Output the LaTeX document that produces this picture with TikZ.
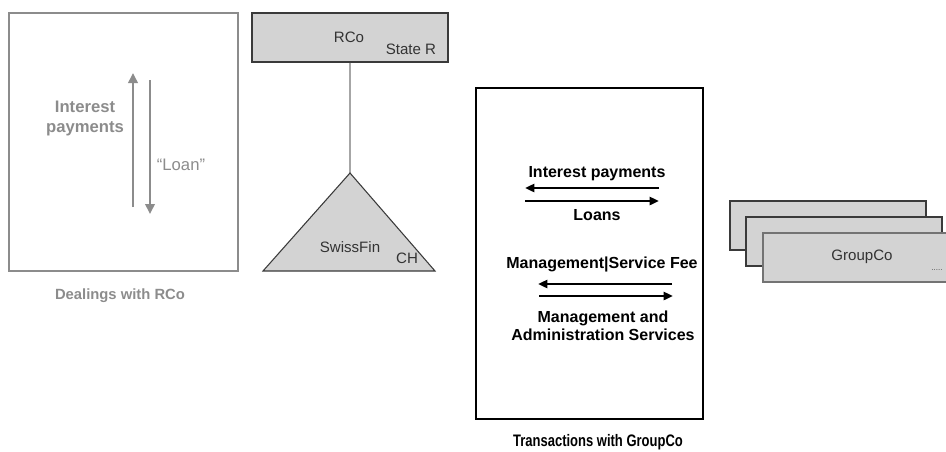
\documentclass[tikz,border=0pt]{standalone}
\usepackage{fontspec}
\usepackage{graphicx}
\setmainfont{Liberation Sans}
\usetikzlibrary{arrows.meta}
\definecolor{lgray}{HTML}{8C8C8C}
\definecolor{boxfill}{HTML}{D3D3D3}
\definecolor{boxline}{HTML}{3A3A3A}
\tikzset{
  greybox/.style={draw=lgray, line width=1.5pt, fill=white, inner sep=0pt},
  blackbox/.style={draw=black, line width=1.5pt, fill=white, inner sep=0pt},
  entity/.style={draw=boxline, line width=0.8pt, fill=boxfill, inner sep=0pt, minimum width=147pt, minimum height=36.75pt},
  greyarrow/.style={draw=lgray, line width=2.2pt, -{Triangle[length=7.5pt,width=7pt]}},
  blackarrow/.style={draw=black, line width=2.2pt, -{Triangle[length=7pt,width=6pt]}},
  greylabel/.style={text=lgray, font=\bfseries\fontsize{12.5}{15}\selectfont, align=center, inner sep=0pt},
  blacklabel/.style={text=black, font=\bfseries\fontsize{12}{13.5}\selectfont, align=center, inner sep=0pt},
  plainlabel/.style={text=black!80, font=\fontsize{11.3}{13}\selectfont, inner sep=0pt}
}
\begin{document}
\begin{tikzpicture}[x=0.75pt,y=-0.75pt]
\useasboundingbox (0,0) rectangle (946,451);
% left box
\node[greybox, minimum width=171.75pt, minimum height=193.5pt] (deal) at (123.5,142) {};
\coordinate (ipFrom) at (133,207);
\coordinate (ipTo) at (133,73);
\coordinate (lnFrom) at (150,80);
\coordinate (lnTo) at (150,214);
\draw[greyarrow] (ipFrom) -- (ipTo);
\draw[greyarrow] (lnFrom) -- (lnTo);
\node[greylabel] (iplab) at (85,118) {Interest\\payments};
\node[text=lgray, font=\fontsize{12.5}{15}\selectfont, inner sep=0pt] (lnlab) at (181,165) {“Loan”};
\node[text=lgray, font=\bfseries\fontsize{11.1}{13}\selectfont, inner sep=0pt] (dealcap) at (120,296) {Dealings with RCo};
% RCo and SwissFin
\node[entity] (rco) at (350,37.5) {};
\node[plainlabel] (rcolab) at (349,37) {RCo};
\node[plainlabel] (staterlab) at (411,49) {State R};
\coordinate (apex) at (350,173);
\coordinate (bl) at (263,271);
\coordinate (br) at (435,271);
\draw[draw=black!35, line width=0.8pt] (rco.south) -- (apex);
\filldraw[draw=boxline, fill=boxfill, line width=0.8pt] (apex) -- (br) -- (bl) -- cycle;
\node[plainlabel] (swisslab) at (350,247) {SwissFin};
\node[plainlabel] (chlab) at (407,258) {CH};
% right box
\node[blackbox, minimum width=170.25pt, minimum height=248.25pt] (trans) at (589.5,253.5) {};
\coordinate (a1s) at (659,188);
\coordinate (a1e) at (525,188);
\coordinate (a2s) at (525,201);
\coordinate (a2e) at (659,201);
\coordinate (a3s) at (672,284);
\coordinate (a3e) at (538,284);
\coordinate (a4s) at (539,296);
\coordinate (a4e) at (673,296);
\draw[blackarrow] (a1s) -- (a1e);
\draw[blackarrow] (a2s) -- (a2e);
\draw[blackarrow] (a3s) -- (a3e);
\draw[blackarrow] (a4s) -- (a4e);
\node[blacklabel] (l1) at (597,174) {Interest payments};
\node[blacklabel] (l2) at (597,215) {Loans};
\node[blacklabel] (l3) at (602,264) {Management|Service Fee};
\node[blacklabel] (l4) at (603,326) {Management and\\Administration Services};
\node[blacklabel] (transcap) at (598,442) {\scalebox{0.78}[1]{\fontsize{12.5}{14}\selectfont Transactions with GroupCo}};
% GroupCo stack
\node[entity] (g1) at (828,225.5) {};
\node[entity] (g2) at (844,241.5) {};
\coordinate (g3tl) at (763,233);
\coordinate (g3bl) at (763,282);
\coordinate (g3tr) at (946,233);
\coordinate (g3br) at (946,282);
\fill[boxfill] (g3tl) rectangle (g3br);
\draw[draw=black!55, line width=0.8pt] (g3tr) -- (g3tl) -- (g3bl) -- (g3br);
\node[plainlabel] (grouplab) at (862,257) {GroupCo};
\node[text=black!70, font=\fontsize{6}{7}\selectfont, inner sep=0pt] (dots) at (937,270) {.....};
\end{tikzpicture}
\end{document}
